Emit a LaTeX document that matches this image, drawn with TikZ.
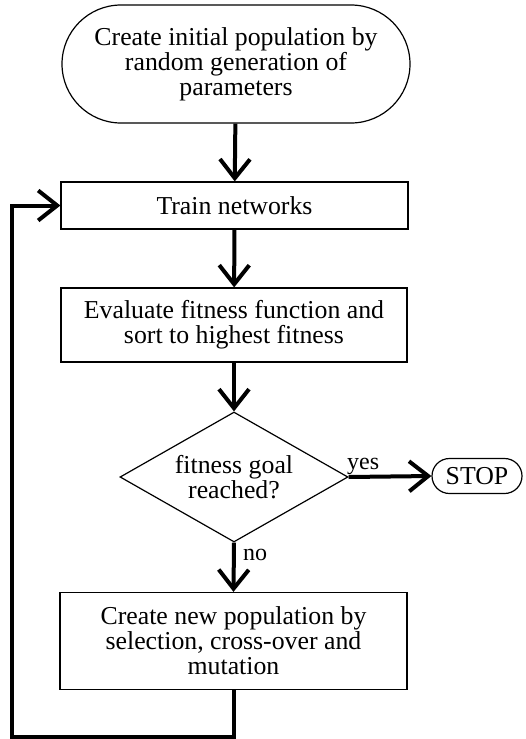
\documentclass[tikz,border=0pt]{standalone}
\usepackage{fontspec}
\setmainfont{Liberation Serif}
\usetikzlibrary{arrows.meta,shapes.geometric,shapes.misc}
\begin{document}
\begin{tikzpicture}[x=1pt,y=-1pt,
  every node/.style={font=\fontsize{25.8}{25}\selectfont, align=center, inner sep=0pt},
  box/.style={draw, line width=1.2pt, rectangle},
  terminal/.style={draw, line width=1.2pt, rounded rectangle},
  decision/.style={draw, line width=1.2pt, diamond, shape aspect=1.75},
  flow/.style={line width=4pt, -{Straight Barb[length=19pt,width=30pt]}},
  lbl/.style={font=\fontsize{24}{24}\selectfont}
]
\useasboundingbox (0,0) rectangle (525,739);

% process steps
\node[terminal, minimum width=348pt, minimum height=118pt] (start) at (236,64)
  {Create initial population by\\random generation of\\parameters};
\node[box, minimum width=347pt, minimum height=47pt] (train) at (234.5,205.5)
  {Train networks};
\node[box, minimum width=346pt, minimum height=74pt] (eval) at (234,325)
  {Evaluate fitness function and\\sort to highest fitness};
\node[decision, minimum width=228pt, minimum height=130pt] (goal) at (234,477)
  {fitness goal\\reached?};
\node[terminal, minimum width=90pt, minimum height=35pt] (stop) at (477,476)
  {STOP};
\node[box, minimum width=347pt, minimum height=97pt] (new) at (233.5,641)
  {Create new population by\\selection, cross-over and\\mutation};

% connectors
\draw[flow] (start) -- (train);
\draw[flow] (train) -- (eval);
\draw[flow] (eval) -- (goal);
\draw[flow] (goal.east) -- (stop.west);
\draw[flow] (goal.south) -- (new.north);

\node[lbl, anchor=south west] (yes) at (347,475) {yes};
\node[lbl, anchor=west] (no) at (243,555) {no};

% loop back to training
\coordinate (c1) at (new.south |- 0,737);
\coordinate (c2) at (12,737);
\coordinate (c3) at (12,205.5);
\draw[flow, line join=miter] (new.south) -- (c1) -- (c2) -- (c3) -- (train.west);
\end{tikzpicture}
\end{document}
